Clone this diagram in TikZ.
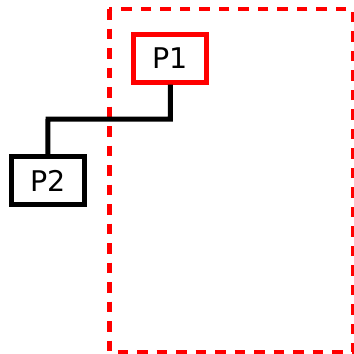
\documentclass[tikz,border=0pt]{standalone}
\usepackage{fontspec}
\setmainfont{DejaVu Sans}
\begin{document}
\begin{tikzpicture}[x=1pt,y=-1pt,
  pbox/.style={draw,line width=5pt,minimum width=73pt,minimum height=48pt,inner sep=0pt,font=\fontsize{28.5}{30}\selectfont},
  wire/.style={draw,line width=5pt}]
\useasboundingbox (0,0) rectangle (354,354);
\draw[red,line width=4.5pt,dash pattern=on 10.5pt off 9pt] (109.3,9.2) rectangle (353,352);
\node[pbox,red,text=black] (p1) at (170.3,58) {P1};
\node[pbox] (p2) at (47.8,180.7) {P2};
\draw[wire] (p1.south) |- (48,119) coordinate (m) -- (p2.north);
\end{tikzpicture}
\end{document}
